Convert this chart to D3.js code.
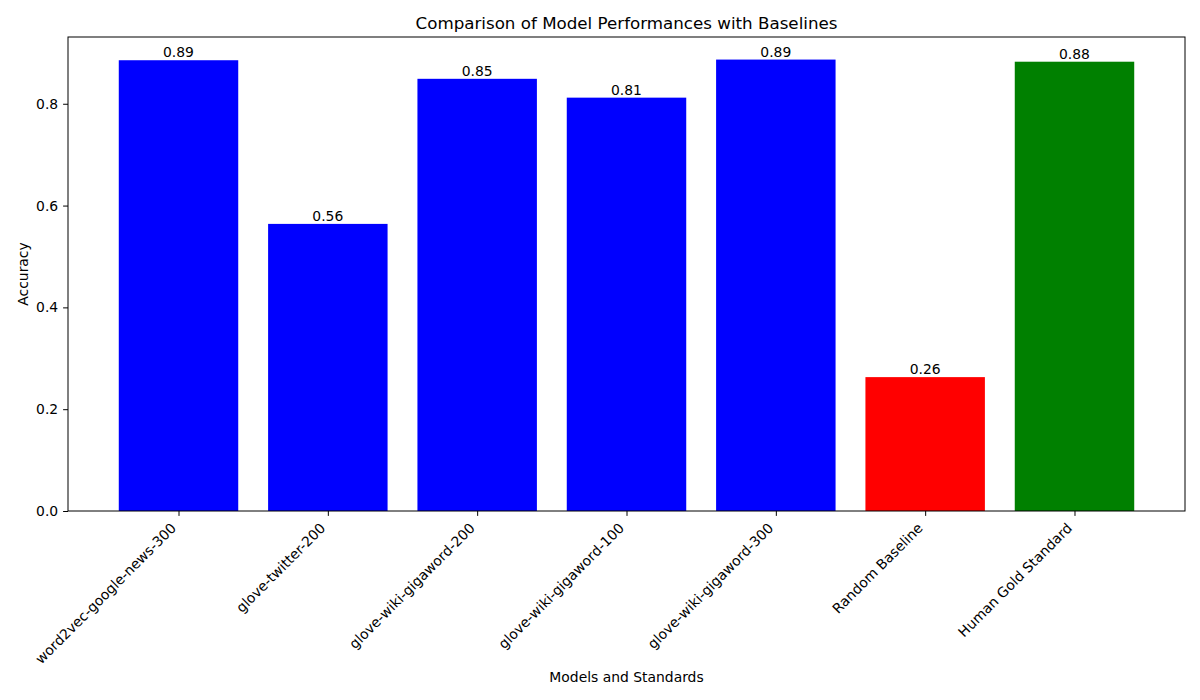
<!DOCTYPE html>
<html>
<head>
<meta charset="utf-8">
<script src="https://cdn.jsdelivr.net/npm/d3@7"></script>
<style>
body { margin: 0; background: #fff; }
text { font-family: "DejaVu Sans", sans-serif; fill: #000; }
</style>
</head>
<body>
<script>
var models = ["word2vec-google-news-300", "glove-twitter-200", "glove-wiki-gigaword-200",
              "glove-wiki-gigaword-100", "glove-wiki-gigaword-300", "Random Baseline", "Human Gold Standard"];
var accuracy = [0.8855, 0.564, 0.849, 0.812, 0.8868, 0.263, 0.8826];
var barColors = ["blue", "blue", "blue", "blue", "blue", "red", "green"];
var yTicks = [0.0, 0.2, 0.4, 0.6, 0.8];

var width = 1200, height = 700;
var m = {left: 68, right: 15, top: 37, bottom: 189};
var pw = width - m.left - m.right, ph = height - m.top - m.bottom;

var svg = d3.select("body").append("svg")
            .attr("width", width)
            .attr("height", height);

// matplotlib style: bar width 0.8, 5% margins
var x = d3.scaleLinear().domain([-0.74, models.length - 1 + 0.74]).range([m.left, m.left + pw]);
var y = d3.scaleLinear().domain([0, d3.max(accuracy) * 1.05]).range([m.top + ph, m.top]);

var g = svg.append("g");

g.selectAll("rect.bar")
  .data(accuracy)
  .enter()
  .append("rect")
  .attr("class", "bar")
  .attr("x", function(d, i) { return x(i - 0.4); })
  .attr("width", function(d, i) { return x(i + 0.4) - x(i - 0.4); })
  .attr("y", function(d) { return y(d); })
  .attr("height", function(d) { return y(0) - y(d); })
  .attr("fill", function(d, i) { return barColors[i]; });

g.selectAll("text.val")
  .data(accuracy)
  .enter()
  .append("text")
  .attr("class", "val")
  .attr("x", function(d, i) { return x(i); })
  .attr("y", function(d) { return y(d) - 3; })
  .attr("text-anchor", "middle")
  .attr("font-size", "13.9px")
  .text(function(d) { return d.toFixed(2); });

// y axis
var yAxis = d3.axisLeft(y).tickValues(yTicks).tickSize(4.9).tickPadding(4.9)
              .tickFormat(d3.format(".1f"));
var ya = svg.append("g").attr("transform", "translate(" + m.left + ",0)").call(yAxis);
ya.select(".domain").remove();
ya.selectAll("text").attr("font-size", "13.9px").attr("font-family", "DejaVu Sans");
ya.selectAll("line").attr("stroke", "#000").attr("stroke-width", 1);

// x axis
var xAxis = d3.axisBottom(x).tickValues(d3.range(models.length)).tickSize(4.9)
              .tickFormat(function(d) { return models[d]; });
var xa = svg.append("g").attr("transform", "translate(0," + (m.top + ph) + ")").call(xAxis);
xa.select(".domain").remove();
xa.selectAll("line").attr("stroke", "#000").attr("stroke-width", 1);
xa.selectAll("text")
  .attr("font-size", "13.9px")
  .attr("font-family", "DejaVu Sans")
  .attr("text-anchor", "end")
  .attr("dy", null)
  .attr("y", 0)
  .attr("transform", "translate(-2,18) rotate(-45)");

// frame
svg.append("rect")
   .attr("x", m.left).attr("y", m.top)
   .attr("width", pw).attr("height", ph)
   .attr("fill", "none").attr("stroke", "#000").attr("stroke-width", 1);

svg.append("text")
   .attr("x", m.left + pw / 2).attr("y", 29)
   .attr("text-anchor", "middle")
   .attr("font-size", "16.7px")
   .text("Comparison of Model Performances with Baselines");

svg.append("text")
   .attr("x", m.left + pw / 2).attr("y", 682)
   .attr("text-anchor", "middle")
   .attr("font-size", "13.9px")
   .text("Models and Standards");

svg.append("text")
   .attr("transform", "translate(28," + (m.top + ph / 2) + ") rotate(-90)")
   .attr("text-anchor", "middle")
   .attr("font-size", "13.9px")
   .text("Accuracy");
</script>
</body>
</html>
